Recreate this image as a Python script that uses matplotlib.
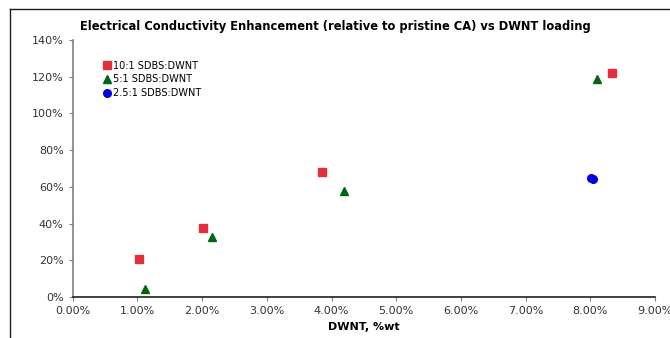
import matplotlib.pyplot as plt
from matplotlib.lines import Line2D
from matplotlib.ticker import FuncFormatter, MultipleLocator

# 数据（DWNT 含量 %wt，电导率提升 %）
x_10to1 = [1.02, 2.02, 3.86, 8.34]
y_10to1 = [20.5, 37.4, 68.0, 121.9]

x_5to1 = [1.12, 2.16, 4.19, 8.11]
y_5to1 = [4.5, 32.5, 57.6, 118.6]

x_2p5to1 = [8.01, 8.04]
y_2p5to1 = [65.0, 64.1]

labels = ['10:1 SDBS:DWNT', '5:1 SDBS:DWNT', '2.5:1 SDBS:DWNT']

fig = plt.figure(figsize=(6.7, 3.38), dpi=100)
ax = fig.add_axes([0.1085, 0.1213, 0.8692, 0.7604])

ax.plot(x_10to1, y_10to1, 's', color='#e0303a', markersize=6, label=labels[0], zorder=3)
ax.plot(x_5to1, y_5to1, '^', color='#006414', markersize=6, label=labels[1], zorder=3)
ax.plot(x_2p5to1, y_2p5to1, 'o', color='#0000e0', markersize=5.5, label=labels[2], zorder=3)

ax.set_xlim(0, 9)
ax.set_ylim(0, 140)
ax.xaxis.set_major_locator(MultipleLocator(1))
ax.yaxis.set_major_locator(MultipleLocator(20))
ax.xaxis.set_major_formatter(FuncFormatter(lambda v, p: f'{v:.2f}%'))
ax.yaxis.set_major_formatter(FuncFormatter(lambda v, p: f'{v:.0f}%'))

for s in ['top', 'right']:
    ax.spines[s].set_visible(False)
for s in ['left', 'bottom']:
    ax.spines[s].set_color('#808080')
    ax.spines[s].set_linewidth(1.2)
ax.spines['bottom'].set_color('#202020')
ax.tick_params(axis='both', direction='out', length=3, color='#808080',
               labelsize=8, labelcolor='#333333')

ax.set_xlabel('DWNT, %wt', fontsize=8, fontweight='bold', labelpad=4)
fig.text(0.5, 0.923, 'Electrical Conductivity Enhancement (relative to pristine CA) vs DWNT loading',
         ha='center', va='center', fontsize=8.3, fontweight='bold')

leg = ax.legend(loc='upper left', bbox_to_anchor=(0.045, 0.935), frameon=False,
                fontsize=7, handlelength=0.8, handletextpad=0.3,
                labelspacing=0.38, borderaxespad=0)

# 外框（左、上）
fig.add_artist(Line2D([10 / 670, 10 / 670], [0, 1 - 9 / 338], color='#202020', lw=1))
fig.add_artist(Line2D([10 / 670, 1], [1 - 9 / 338, 1 - 9 / 338], color='#202020', lw=1))

plt.savefig('out.png', dpi=100)
